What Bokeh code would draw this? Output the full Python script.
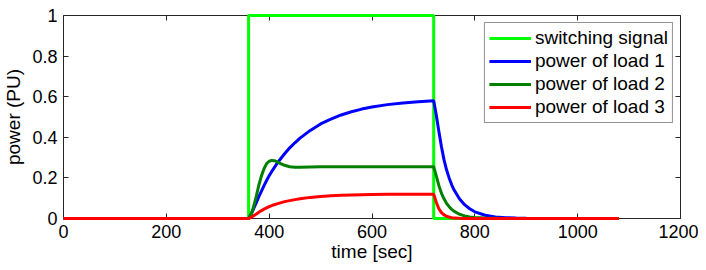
from bokeh.plotting import figure
from bokeh.models import LinearAxis, FixedTicker, Range1d, Legend, LegendItem
from bokeh.embed import file_html
from bokeh.resources import INLINE

# ---- data ----
x_ticks = [0, 200, 400, 600, 800, 1000, 1200]
x_tick_labels = ["0", "200", "400", "600", "800", "1000", "1200"]
y_ticks = [0, 0.2, 0.4, 0.6, 0.8, 1.0]
y_tick_labels = ["0", "0.2", "0.4", "0.6", "0.8", "1"]

series_names = ["switching signal", "power of load 1", "power of load 2", "power of load 3"]
series_colors = ["#00ff00", "#0000ff", "#008000", "#ff0000"]

t_switch = [0, 360, 360, 720, 720, 1080]
switch_signal = [0, 0, 1, 1, 0, 0]

t_load = [0, 360, 365, 370, 375, 380, 385, 390, 395, 400, 405, 410, 415, 420, 430, 440,
          450, 460, 480, 500, 520, 540, 560, 580, 600, 630, 660, 690, 720,
          725, 730, 735, 740, 745, 750, 755, 760, 770, 780, 790, 800, 820, 840, 860,
          880, 900, 1080]

load1 = [0, 0, 0.022, 0.050, 0.078, 0.108, 0.135, 0.162, 0.187, 0.211, 0.232, 0.251, 0.270,
         0.287, 0.319, 0.348, 0.373, 0.396, 0.434, 0.466, 0.490, 0.510, 0.526, 0.539, 0.549,
         0.561, 0.569, 0.575, 0.580,
         0.510, 0.430, 0.355, 0.290, 0.240, 0.200, 0.166, 0.139, 0.097, 0.068, 0.048, 0.033,
         0.016, 0.008, 0.004, 0.002, 0.001, 0]

load2 = [0, 0, 0.020, 0.060, 0.110, 0.165, 0.210, 0.245, 0.270, 0.282, 0.286, 0.285, 0.280,
         0.273, 0.262, 0.255, 0.252, 0.252, 0.254, 0.255, 0.255, 0.255, 0.255, 0.255, 0.255,
         0.255, 0.255, 0.255, 0.255,
         0.210, 0.163, 0.125, 0.097, 0.075, 0.058, 0.045, 0.035, 0.021, 0.013, 0.008, 0.005,
         0.002, 0.001, 0, 0, 0, 0]

load3 = [0, 0, 0.006, 0.014, 0.022, 0.031, 0.039, 0.046, 0.052, 0.058, 0.063, 0.068, 0.072,
         0.076, 0.083, 0.088, 0.093, 0.097, 0.104, 0.108, 0.112, 0.114, 0.116, 0.117, 0.118,
         0.119, 0.119, 0.120, 0.120,
         0.080, 0.048, 0.029, 0.018, 0.011, 0.007, 0.004, 0.003, 0.001, 0, 0, 0,
         0, 0, 0, 0, 0, 0]

FONT = "Liberation Sans"
AX = "#262626"

p = figure(frame_width=617, frame_height=203,
           x_range=Range1d(0, 1200), y_range=Range1d(0, 1),
           output_backend="svg", toolbar_location=None,
           min_border_left=0, min_border_right=18, min_border_top=15, min_border_bottom=0)
p.outline_line_color = None
p.xgrid.visible = False
p.ygrid.visible = False
p.background_fill_color = "white"
p.border_fill_color = "white"

def style_axis(ax, ticks, labels, show_labels=True):
    ax.ticker = FixedTicker(ticks=ticks)
    ax.major_tick_in = 5
    ax.major_tick_out = 0
    ax.minor_tick_line_color = None
    ax.axis_line_color = AX
    ax.major_tick_line_color = AX
    ax.major_label_text_font = FONT
    if show_labels:
        ax.major_label_overrides = {t: l for t, l in zip(ticks, labels)}
        ax.major_label_text_font_size = "18px"
        ax.major_label_text_color = "black"
    else:
        ax.major_label_text_font_size = "0px"
        ax.major_label_text_color = None
        ax.major_label_standoff = 0

xa = p.xaxis[0]
style_axis(xa, x_ticks, x_tick_labels)
xa.major_label_standoff = 6
xa.axis_label = "time [sec]"
xa.axis_label_standoff = 0
ya = p.yaxis[0]
style_axis(ya, y_ticks, y_tick_labels)
ya.major_label_standoff = 6
ya.axis_label = "power (PU)"
ya.axis_label_standoff = 5
for ax in (xa, ya):
    ax.axis_label_text_font = FONT
    ax.axis_label_text_font_size = "19px"
    ax.axis_label_text_font_style = "normal"
    ax.axis_label_text_color = "black"

top = LinearAxis()
style_axis(top, x_ticks, x_tick_labels, show_labels=False)
p.add_layout(top, "above")
right = LinearAxis()
style_axis(right, y_ticks, y_tick_labels, show_labels=False)
p.add_layout(right, "right")

r0 = p.line(t_switch, switch_signal, line_color=series_colors[0], line_width=3, level="overlay")
r1 = p.line(t_load, load1, line_color=series_colors[1], line_width=3, level="overlay")
r2 = p.line(t_load, load2, line_color=series_colors[2], line_width=3, level="overlay")
r3 = p.line(t_load, load3, line_color=series_colors[3], line_width=3, level="overlay")

legend = Legend(items=[LegendItem(label=n, renderers=[r]) for n, r in zip(series_names, [r0, r1, r2, r3])],
                location="top_right")
legend.margin = 7
legend.padding = 4
legend.spacing = 1
legend.glyph_width = 42
legend.glyph_height = 20
legend.label_height = 20
legend.label_standoff = 4
legend.label_text_font = FONT
legend.label_text_font_size = "19px"
legend.label_text_color = "black"
legend.border_line_color = AX
legend.border_line_width = 1
legend.background_fill_alpha = 1.0
p.add_layout(legend)

open("out.html", "w").write(file_html(p, INLINE))
